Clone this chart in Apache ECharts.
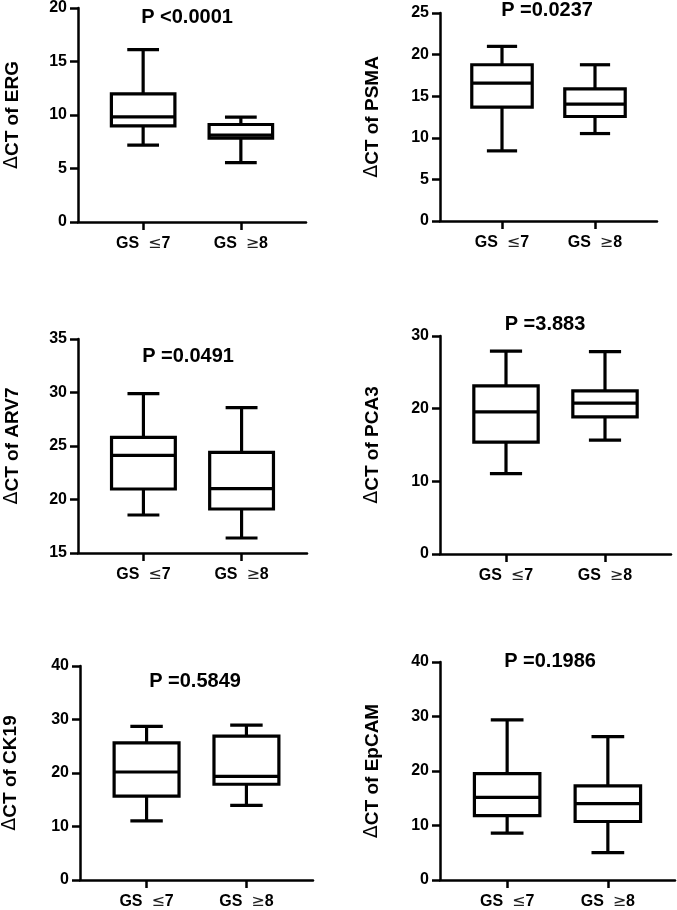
<!DOCTYPE html>
<html>
<head>
<meta charset="utf-8">
<script src="https://cdn.jsdelivr.net/npm/echarts@6/dist/echarts.min.js"></script>
<style>
html,body{margin:0;padding:0;background:#fff;}
#chart{width:677px;height:910px;}
</style>
</head>
<body>
<div id="chart"></div>
<script>
// ---------- DATA ----------
const categories = ['GS ≤7', 'GS ≥8'];
const genes = ['ERG', 'PSMA', 'ARV7', 'PCA3', 'CK19', 'EpCAM'];
const pValues = ['P <0.0001', 'P =0.0237', 'P =0.0491', 'P =3.883', 'P =0.5849', 'P =0.1986'];
// y-axis ranges [min, max, interval]
const yRanges = [[0, 20, 5], [0, 25, 5], [15, 35, 5], [0, 30, 10], [0, 40, 10], [0, 40, 10]];
// box values: [min whisker, Q1, median, Q3, max whisker]
const ergLe7 = [7.19, 8.99, 9.83, 11.97, 16.11];
const ergGe8 = [5.54, 7.84, 8.12, 9.11, 9.80];
const psmaLe7 = [8.43, 13.68, 16.57, 18.78, 20.99];
const psmaGe8 = [10.51, 12.56, 14.04, 15.89, 18.78];
const arv7Le7 = [18.55, 20.98, 24.13, 25.81, 29.89];
const arv7Ge8 = [16.40, 19.11, 21.01, 24.41, 28.58];
const pca3Le7 = [11.07, 15.39, 19.57, 23.15, 27.93];
const pca3Ge8 = [15.66, 18.88, 20.76, 22.46, 27.84];
const ck19Le7 = [11.05, 15.68, 20.19, 25.62, 28.70];
const ck19Ge8 = [13.95, 17.90, 19.38, 26.91, 28.95];
const epcamLe7 = [8.61, 11.82, 15.15, 19.52, 29.39];
const epcamGe8 = [5.03, 10.73, 14.00, 17.27, 26.30];
const boxes = [
  [ergLe7, ergGe8], [psmaLe7, psmaGe8], [arv7Le7, arv7Ge8],
  [pca3Le7, pca3Ge8], [ck19Le7, ck19Ge8], [epcamLe7, epcamGe8]
];

// ---------- LAYOUT ----------
const FONT = '"Liberation Sans", Arial, Helvetica, sans-serif';
const grids = [
  {left: 78, top: 7, width: 228, height: 215},
  {left: 440, top: 13, width: 217, height: 208},
  {left: 78, top: 339, width: 229, height: 214},
  {left: 440, top: 336, width: 231, height: 218},
  {left: 78, top: 666, width: 235, height: 216},
  {left: 440, top: 662, width: 235, height: 220}
];
const titlePos = [[187, 7], [547, 0], [188, 346], [545, 314], [195, 671], [550, 651]];
const nameGaps = [56, 58, 56, 58, 60, 58];
const BOX_W = 0.65;
const LW = 3.2;

function renderBox(params, api) {
  const x = api.value(0);
  const low = api.value(1), q1 = api.value(2), med = api.value(3), q3 = api.value(4), high = api.value(5);
  const half = api.size([BOX_W, 0])[0] / 2;
  const capHalf = half / 2;
  const c = api.coord([x, med]);
  const cx = c[0];
  const yLow = api.coord([x, low])[1];
  const yQ1 = api.coord([x, q1])[1];
  const yMed = c[1];
  const yQ3 = api.coord([x, q3])[1];
  const yHigh = api.coord([x, high])[1];
  const ls = {stroke: '#000', lineWidth: LW, fill: null};
  return {
    type: 'group',
    children: [
      {type: 'line', shape: {x1: cx, y1: yQ3, x2: cx, y2: yHigh}, style: ls},
      {type: 'line', shape: {x1: cx, y1: yQ1, x2: cx, y2: yLow}, style: ls},
      {type: 'line', shape: {x1: cx - capHalf, y1: yHigh, x2: cx + capHalf, y2: yHigh}, style: ls},
      {type: 'line', shape: {x1: cx - capHalf, y1: yLow, x2: cx + capHalf, y2: yLow}, style: ls},
      {type: 'rect', shape: {x: cx - half, y: yQ3, width: 2 * half, height: yQ1 - yQ3},
        style: {stroke: '#000', lineWidth: LW, fill: '#fff'}},
      {type: 'line', shape: {x1: cx - half, y1: yMed, x2: cx + half, y2: yMed}, style: ls}
    ]
  };
}

function fmtCat(v) {
  const s = categories[Math.round(v) - 1] || '';
  return s.replace(/ ([≤≥])/, '  {t|$1}');
}

const option = {
  backgroundColor: '#fff',
  animation: false,
  title: [], grid: [], xAxis: [], yAxis: [], series: []
};

for (let i = 0; i < 6; i++) {
  option.title.push({
    text: pValues[i], left: titlePos[i][0], top: titlePos[i][1], textAlign: 'center', padding: 0,
    textStyle: {fontFamily: FONT, fontSize: 20, fontWeight: 'bold', color: '#000'}
  });
  option.grid.push(Object.assign({containLabel: false}, grids[i]));
  option.xAxis.push({
    type: 'value', gridIndex: i, min: 1 / 3, max: 8 / 3,
    splitLine: {show: false},
    axisLine: {show: true, onZero: false, lineStyle: {color: '#000', width: 2.5}},
    axisTick: {show: true, customValues: [1, 2], length: 8, lineStyle: {color: '#000', width: 2.5}},
    axisLabel: {
      show: true, customValues: [1, 2], margin: 14, formatter: fmtCat,
      fontFamily: FONT, fontSize: 16, fontWeight: 'bold', color: '#000',
      rich: {t: {fontFamily: '"DejaVu Sans", sans-serif', fontSize: 16, fontWeight: 'normal', color: '#222'}}
    }
  });
  option.yAxis.push({
    type: 'value', gridIndex: i,
    min: yRanges[i][0], max: yRanges[i][1], interval: yRanges[i][2],
    name: '{d|Δ}CT of ' + genes[i], nameLocation: 'middle', nameGap: nameGaps[i], nameRotate: 90,
    nameTextStyle: {
      fontFamily: FONT, fontSize: 19, fontWeight: 'bold', color: '#000',
      rich: {d: {fontFamily: '"DejaVu Sans", sans-serif', fontSize: 19, fontWeight: 'normal', color: '#000'}}
    },
    splitLine: {show: false},
    axisLine: {show: true, onZero: false, lineStyle: {color: '#000', width: 2.5}},
    axisTick: {show: true, length: 8, lineStyle: {color: '#000', width: 2.5}},
    axisLabel: {margin: 11, fontFamily: FONT, fontSize: 16, fontWeight: 'bold', color: '#000'}
  });
  option.series.push({
    type: 'custom', xAxisIndex: i, yAxisIndex: i,
    renderItem: renderBox,
    encode: {x: 0, y: [1, 2, 3, 4, 5]},
    data: boxes[i].map((b, k) => [k + 1].concat(b)),
    clip: false
  });
}

const chart = echarts.init(document.getElementById('chart'), null, {renderer: 'canvas'});
chart.setOption(option);
</script>
</body>
</html>
